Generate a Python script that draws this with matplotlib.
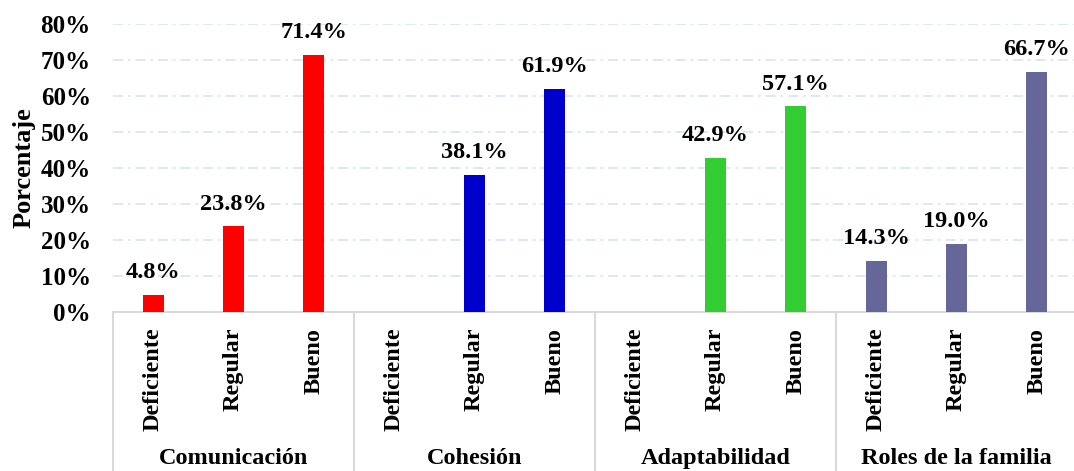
import matplotlib.pyplot as plt
import matplotlib.transforms as mtransforms
from matplotlib.ticker import PercentFormatter

plt.rcParams['font.family'] = ['Liberation Serif', 'DejaVu Serif']
plt.rcParams['font.weight'] = 'bold'

groups = ["Comunicación", "Cohesión", "Adaptabilidad", "Roles de la familia"]
levels = ["Deficiente", "Regular", "Bueno"]
comunicacion = [4.8, 23.8, 71.4]
cohesion = [0.0, 38.1, 61.9]
adaptabilidad = [0.0, 42.9, 57.1]
roles = [14.3, 19.0, 66.7]
colors = ["#FF0000", "#0000CC", "#33CC33", "#666699"]

fig = plt.figure(figsize=(10.74, 4.71), dpi=100)
ax = fig.add_axes([113 / 1074, 159 / 471, 964 / 1074, 288 / 471])

series = [comunicacion, cohesion, adaptabilidad, roles]
for g, vals in enumerate(series):
    xs = [g * 3 + i for i in range(3)]
    ys = [v / 100 for v in vals]
    ax.bar(xs, ys, width=0.26, color=colors[g], zorder=3)
    for x, v in zip(xs, vals):
        if v > 0:
            ax.annotate(f"{v:.1f}%", (x, v / 100), xytext=(0, 12),
                        textcoords="offset points", ha="center", va="baseline",
                        fontsize=17.5, fontweight="bold")

ax.set_xlim(-0.5, 11.5)
ax.set_ylim(0, 0.8)
ax.set_yticks([i / 10 for i in range(9)])
ax.yaxis.set_major_formatter(PercentFormatter(1.0, decimals=0))
ax.tick_params(axis="y", length=0, pad=16, labelsize=18)
ax.tick_params(axis="x", length=0, labelbottom=False)
for lbl in ax.get_yticklabels():
    lbl.set_fontweight("bold")

for y in [i / 10 for i in range(1, 9)]:
    ax.axhline(y, color="#D9E1F2", lw=1.2, dashes=(6, 3, 1.5, 3), zorder=1)

for s in ["left", "right", "top"]:
    ax.spines[s].set_visible(False)
ax.spines["bottom"].set_color("#D9D9D9")
ax.spines["bottom"].set_linewidth(1.5)

trans = mtransforms.blended_transform_factory(ax.transData, ax.transAxes)
for k in range(5):
    ax.plot([k * 3 - 0.5, k * 3 - 0.5], [0, -0.56], transform=trans,
            color="#D9D9D9", lw=1.5, clip_on=False)

for g, name in enumerate(groups):
    for i, lev in enumerate(levels):
        ax.text(g * 3 + i, -0.055, lev, transform=trans, rotation=90,
                ha="center", va="top", fontsize=17.5, fontweight="bold")
    ax.text(g * 3 + 1, -0.51, name, transform=trans, ha="center",
            va="center", fontsize=17.5, fontweight="bold")

fig.text(24 / 1074, 1 - 168 / 471, "Porcentaje", rotation=90, ha="center",
         va="center", fontsize=19, fontweight="bold")

fig.savefig("out.png", dpi=100)
